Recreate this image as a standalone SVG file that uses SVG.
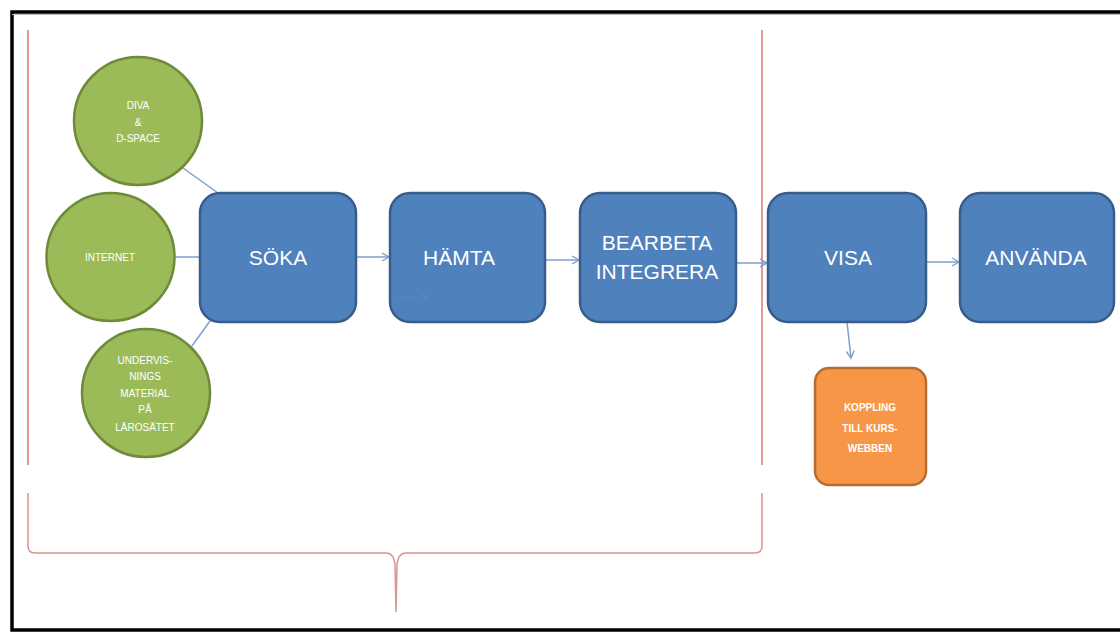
<svg xmlns="http://www.w3.org/2000/svg" width="1120" height="633" viewBox="0 0 1120 633">
<style>
.box{fill:#4F81BD;stroke:#385D8A;stroke-width:2.5}
.circ{fill:#9BBB59;stroke:#6E8A3A;stroke-width:2.5}
.org{fill:#F79646;stroke:#B66D31;stroke-width:2.5}
.t{font-family:"Liberation Sans",Arial,sans-serif;fill:#fff;text-anchor:middle}
.big{font-size:21px}
.sm{font-size:10px}
.con{stroke:#7BA0CD;stroke-width:1.5;fill:none}
.red{stroke:#D9534F;stroke-width:1.2;fill:none}
.brace{stroke:#D99594;stroke-width:1.5;fill:none}
</style>
<defs>
<marker id="ah" markerWidth="10" markerHeight="10" refX="8" refY="5" orient="auto" markerUnits="userSpaceOnUse">
<path d="M1,1 L8,5 L1,9" fill="none" stroke="#7BA0CD" stroke-width="1.4"/>
</marker>
<marker id="ah2" markerWidth="10" markerHeight="10" refX="8" refY="5" orient="auto" markerUnits="userSpaceOnUse">
<path d="M1,1 L8,5 L1,9" fill="none" stroke="#5D8AC2" stroke-width="1.2"/>
</marker>
</defs>
<rect width="1120" height="633" fill="#fff"/>
<g id="frame">
<path d="M1122,12 H12 V630 H1122" fill="none" stroke="#000" stroke-width="3.5"/>
<line x1="12" y1="14.5" x2="1120" y2="14.5" stroke="#bbb" stroke-width="1"/>
<line x1="28" y1="30" x2="28" y2="465" class="red"/>
<line x1="762" y1="30" x2="762" y2="465" class="red"/>
<path class="brace" d="M28,493 V546 Q28,553 35,553 H386 Q394,553 395,565 L396,612 L397,565 Q398,553 406,553 H755 Q762,553 762,546 V493"/>
</g>
<g id="connectors">
<line class="con" x1="183" y1="168" x2="218" y2="193"/>
<line class="con" x1="175" y1="257" x2="200" y2="257"/>
<line class="con" x1="192" y1="346" x2="210" y2="321"/>
<line class="con" x1="356" y1="257" x2="389" y2="257" marker-end="url(#ah)"/>
<line class="con" x1="545" y1="260" x2="579" y2="260" marker-end="url(#ah)"/>
<line class="con" x1="736" y1="263" x2="767" y2="263" marker-end="url(#ah)"/>
<line class="con" x1="926" y1="262" x2="959" y2="262" marker-end="url(#ah)"/>
<line class="con" x1="847" y1="322" x2="851" y2="358" marker-end="url(#ah)"/>
</g>
<g id="diva">
<circle class="circ" cx="138" cy="121" r="64"/>
<text class="t sm" x="138" y="109">DIVA</text>
<text class="t sm" x="138" y="126">&amp;</text>
<text class="t sm" x="138" y="142">D-SPACE</text>
</g>
<g id="internet">
<circle class="circ" cx="110.5" cy="257" r="64"/>
<text class="t sm" x="110" y="261">INTERNET</text>
</g>
<g id="undervisning">
<circle class="circ" cx="146" cy="393" r="64"/>
<text class="t sm" x="145" y="364">UNDERVIS-</text>
<text class="t sm" x="145" y="380">NINGS</text>
<text class="t sm" x="145" y="397">MATERIAL</text>
<text class="t sm" x="145" y="413">PÅ</text>
<text class="t sm" x="145" y="431">LÄROSÄTET</text>
</g>
<g id="soka">
<rect class="box" x="200" y="193" width="156" height="129" rx="20"/>
<text class="t big" x="278" y="265">SÖKA</text>
</g>
<g id="hamta">
<rect class="box" x="390" y="193" width="155" height="129" rx="20"/>
<text class="t big" x="459" y="265">HÄMTA</text>
<line x1="394" y1="298" x2="428" y2="298" stroke="#5D8AC2" stroke-width="1.2" marker-end="url(#ah2)"/>
</g>
<g id="bearbeta">
<rect class="box" x="580" y="193" width="156" height="129" rx="20"/>
<text class="t big" x="657" y="250">BEARBETA</text>
<text class="t big" x="657" y="279">INTEGRERA</text>
</g>
<g id="visa">
<rect class="box" x="768" y="193" width="158" height="129" rx="20"/>
<text class="t big" x="848" y="265">VISA</text>
</g>
<g id="anvanda">
<rect class="box" x="960" y="193" width="154" height="129" rx="20"/>
<text class="t big" x="1036" y="265">ANVÄNDA</text>
</g>
<g id="koppling">
<rect class="org" x="815" y="368" width="111" height="117" rx="14"/>
<text class="t sm" x="870" y="411" font-weight="bold">KOPPLING</text>
<text class="t sm" x="870" y="432" font-weight="bold">TILL KURS-</text>
<text class="t sm" x="870" y="452" font-weight="bold">WEBBEN</text>
</g>
</svg>
